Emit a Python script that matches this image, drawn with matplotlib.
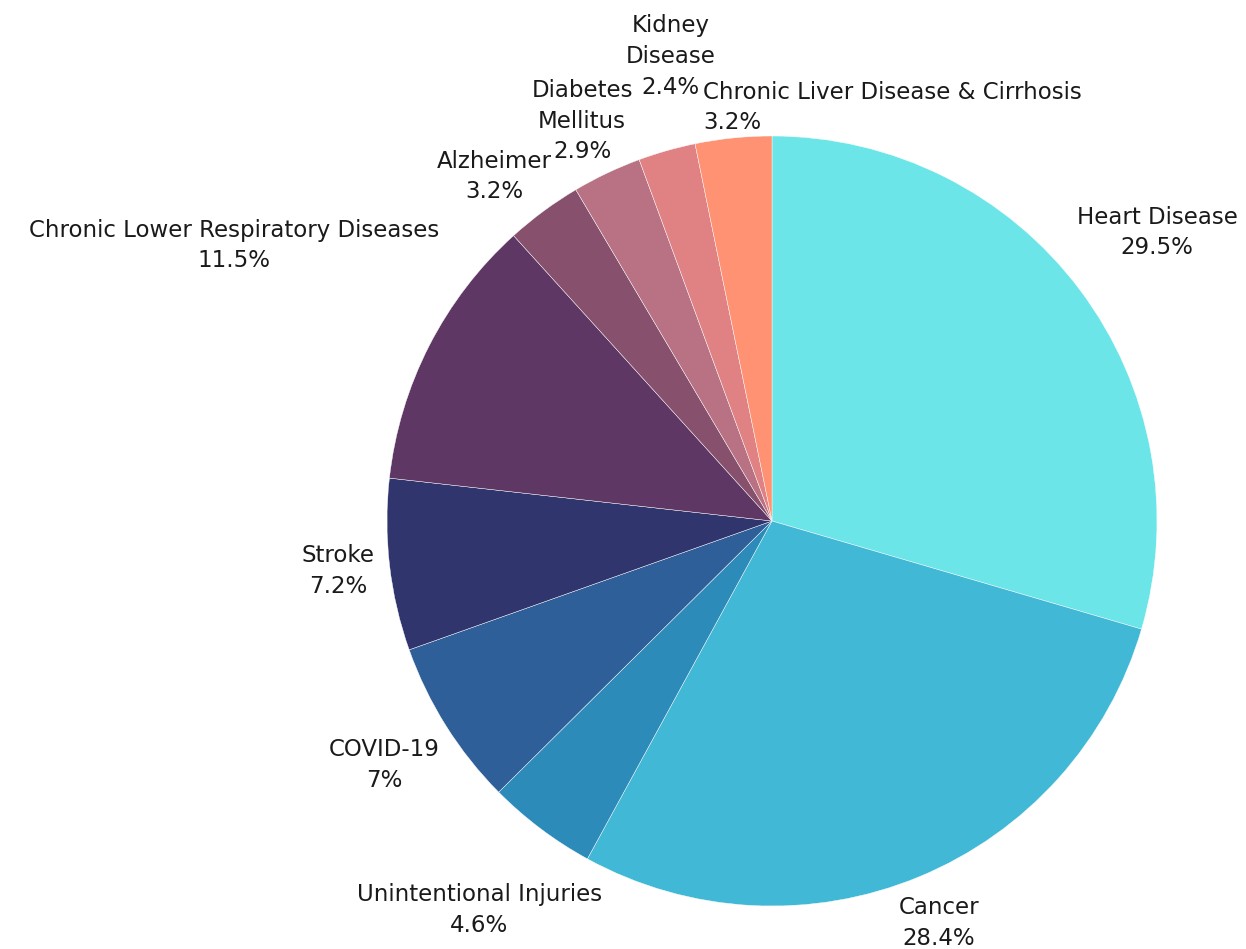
import matplotlib.pyplot as plt
import numpy as np

causes = ['Heart Disease', 'Cancer', 'Unintentional Injuries', 'COVID-19', 'Stroke',
          'Chronic Lower Respiratory Diseases', 'Alzheimer', 'Diabetes\nMellitus',
          'Kidney\nDisease', 'Chronic Liver Disease & Cirrhosis']
shares = [29.5, 28.4, 4.6, 7, 7.2, 11.5, 3.2, 2.9, 2.4, 3.2]
colors = ['#6CE5E8', '#41B8D5', '#2D8BBA', '#2F5F98', '#31356E',
          '#5E3764', '#87516E', '#B87284', '#E08284', '#FE9273']

# label placement: distance from centre (radii), angle nudge (deg), alignment
label_dist = [1.25, 1.13, 1.265, 1.19, 1.135, 1.57, 1.15, 1.15, 1.235, 1.08]
label_nudge = [0, 0, 0, 0, 0, 0, 2.5, 0, -3.5, 0]
label_ha = ['center'] * 9 + ['left']
label_dx = [0] * 9 + [-0.07]

plt.rcParams['font.family'] = ['DejaVu Sans']

fig = plt.figure(figsize=(12.46, 9.49), dpi=100)
ax = fig.add_axes([0, 0, 1, 1])
wedges, _ = ax.pie(shares, colors=colors, startangle=90, counterclock=False,
                   radius=1, wedgeprops=dict(edgecolor='white', linewidth=0.3))

for w, name, val, d, nd, ha, dx in zip(wedges, causes, shares, label_dist,
                                       label_nudge, label_ha, label_dx):
    ang = np.deg2rad((w.theta1 + w.theta2) / 2 + nd)
    x = d * np.cos(ang) + dx
    y = d * np.sin(ang)
    ax.text(x, y, f'{name}\n{val:g}%', ha=ha, va='center', fontsize=16.5,
            color='#1a1a1a', linespacing=1.42, multialignment=ha)

ax.set_xlim(-772 / 385, (1246 - 772) / 385)
ax.set_ylim(-428 / 385, 521 / 385)
ax.set_aspect('auto')
ax.axis('off')

fig.savefig('out.png', dpi=100, facecolor='white')
